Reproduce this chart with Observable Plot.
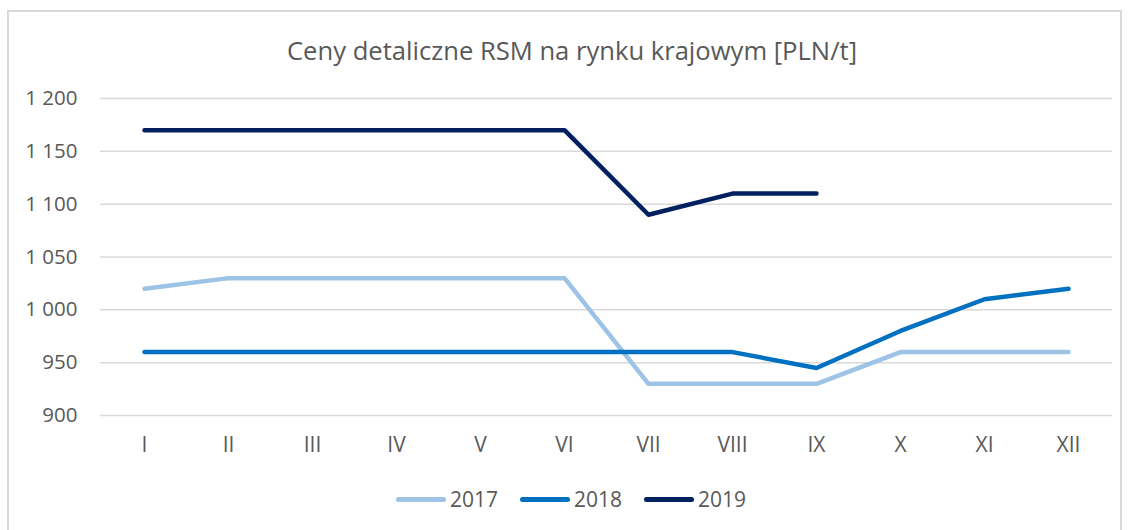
<!DOCTYPE html>
<html><head><meta charset="utf-8">
<script src="https://cdn.jsdelivr.net/npm/d3@7"></script>
<script src="https://cdn.jsdelivr.net/npm/@observablehq/plot@0.6"></script>
<style>
html,body{margin:0;padding:0;background:#fff;width:1130px;height:530px;overflow:hidden;font-family:"Open Sans",sans-serif;}
#frame{position:absolute;left:7px;top:10px;width:1115px;height:530px;border:2px solid #d9d9d9;box-sizing:border-box;}
#title{position:absolute;left:0;width:1144px;top:33px;text-align:center;font-size:25.6px;color:#595959;}
#chart{position:absolute;left:0;top:0;}
#legend{position:absolute;top:485px;left:0;width:1142px;display:flex;justify-content:center;gap:22px;font-size:21px;color:#595959;}
.item{display:flex;align-items:center;gap:4px;}
.sw{width:50px;height:5px;border-radius:3px;}
</style></head><body>
<div id="frame"></div>
<div id="title">Ceny detaliczne RSM na rynku krajowym [PLN/t]</div>
<div id="chart"></div>
<div id="legend"></div>
<script>
const months = ["I","II","III","IV","V","VI","VII","VIII","IX","X","XI","XII"];
const years = ["2017","2018","2019"];
const colors = ["#9dc3e6","#0070c0","#002060"];
const v2017 = [1020,1030,1030,1030,1030,1030,930,930,930,960,960,960];
const v2018 = [960,960,960,960,960,960,960,960,945,980,1010,1020];
const v2019 = [1170,1170,1170,1170,1170,1170,1090,1110,1110];
const yTicks = [900,950,1000,1050,1100,1150,1200];

const series = [v2017, v2018, v2019];
const data = [];
series.forEach((vals, i) => vals.forEach((v, j) => data.push({month: months[j], year: years[i], value: v})));

const fmt = d => d3.format(",")(d).replace(/,/g, "\u00a0");

const chart = Plot.plot({
  width: 1130, height: 530,
  marginLeft: 100, marginRight: 18, marginTop: 98, marginBottom: 115,
  style: {fontFamily: "'Open Sans', sans-serif", color: "#595959", background: "transparent"},
  x: {type: "point", domain: months, padding: 0.5},
  y: {domain: [900, 1200]},
  color: {domain: years, range: colors},
  marks: [
    Plot.ruleY(yTicks, {stroke: "#d9d9d9", strokeWidth: 1.5}),
    Plot.axisX({tickSize: 0, tickPadding: 22, fontSize: 21, label: null, fill: "#595959"}),
    Plot.axisY({ticks: yTicks, tickFormat: fmt, tickSize: 0, tickPadding: 23, fontSize: 20.5, label: null, fill: "#595959"}),
    Plot.line(data, {x: "month", y: "value", z: "year", stroke: "year", strokeWidth: 4.5, strokeLinecap: "round", strokeLinejoin: "round", curve: "linear"})
  ]
});
document.getElementById("chart").appendChild(chart);

const lg = document.getElementById("legend");
years.forEach((y, i) => {
  const it = document.createElement("div"); it.className = "item";
  const sw = document.createElement("div"); sw.className = "sw"; sw.style.background = colors[i];
  const tx = document.createElement("span"); tx.textContent = y;
  it.appendChild(sw); it.appendChild(tx); lg.appendChild(it);
});
</script>
</body></html>
